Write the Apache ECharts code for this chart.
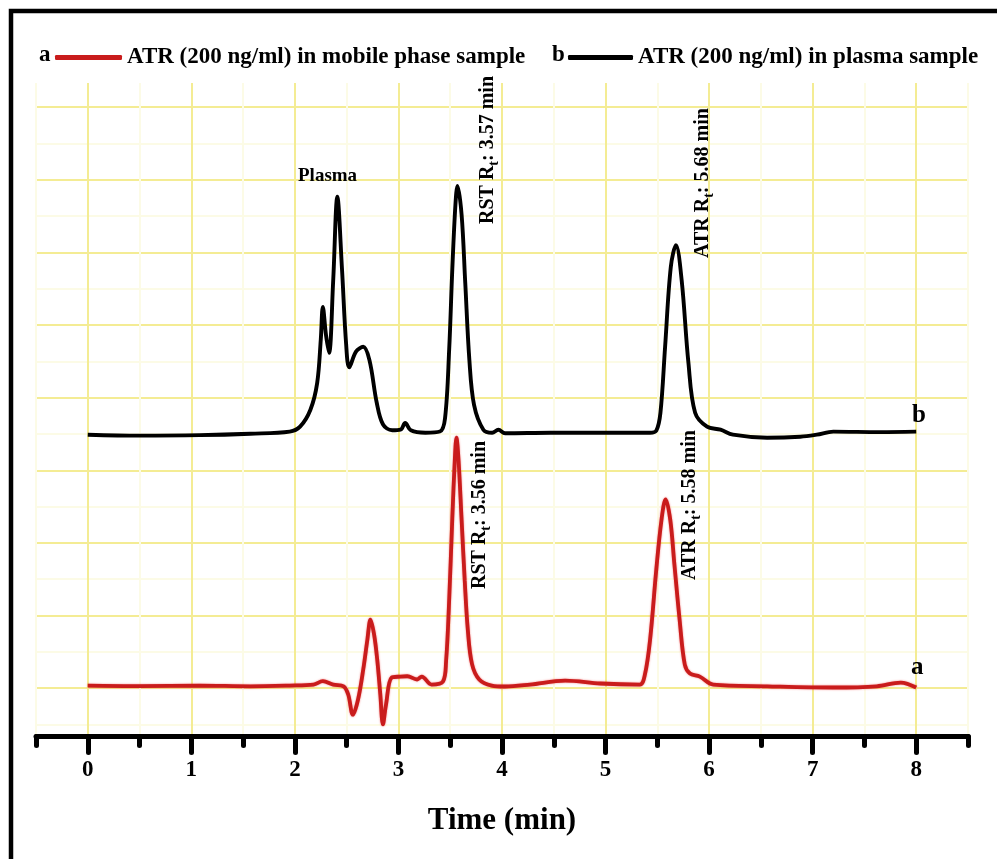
<!DOCTYPE html>
<html>
<head>
<meta charset="utf-8">
<script src="https://cdn.jsdelivr.net/npm/echarts@6/dist/echarts.min.js"></script>
<style>
  html, body { margin: 0; padding: 0; background: #fff; }
  #chart { width: 997px; height: 859px; }
</style>
</head>
<body>
<div id="chart"></div>
<script>
// Chromatogram traces: retention time (min) and detector response (arbitrary units)
const seriesNames = ['ATR (200 ng/ml) in mobile phase sample', 'ATR (200 ng/ml) in plasma sample'];

const timeA = [0, 0.5, 1.08, 1.57, 1.95, 2.18, 2.27, 2.37, 2.47, 2.515, 2.56, 2.61, 2.66, 2.70, 2.73, 2.765, 2.795, 2.825, 2.85, 2.88, 2.935, 3.02, 3.085, 3.18, 3.225, 3.32, 3.43, 3.46, 3.49, 3.52, 3.545, 3.56, 3.58, 3.61, 3.64, 3.67, 3.71, 3.78, 3.9, 4.03, 4.27, 4.61, 4.95, 5.33, 5.38, 5.43, 5.49, 5.54, 5.58, 5.625, 5.665, 5.715, 5.765, 5.815, 5.91, 6.04, 6.56, 7.2, 7.62, 7.85, 8.0];
const signalA = [0.21, 0.17, 0.21, 0.15, 0.21, 0.29, 0.57, 0.29, 0.15, -0.53, -2.2, -0.94, 1.53, 4.0, 5.66, 4.42, 2.36, -0.53, -3.0, -1.36, 0.87, 0.95, 0.98, 0.71, 0.95, 0.29, 0.54, 2.2, 7.3, 14.0, 19.0, 20.7, 18.9, 13.9, 8.9, 4.8, 2.0, 0.71, 0.21, 0.13, 0.29, 0.62, 0.38, 0.29, 1.12, 4.0, 9.8, 13.9, 15.6, 13.9, 10.2, 5.66, 1.95, 1.2, 0.95, 0.29, 0.15, 0.05, 0.15, 0.46, 0.05];

const timeB = [0, 0.5, 1.08, 1.57, 1.95, 2.05, 2.15, 2.215, 2.25, 2.27, 2.30, 2.33, 2.37, 2.41, 2.455, 2.495, 2.525, 2.59, 2.66, 2.72, 2.79, 2.85, 2.94, 3.02, 3.065, 3.12, 3.26, 3.40, 3.45, 3.49, 3.52, 3.55, 3.57, 3.61, 3.645, 3.685, 3.73, 3.82, 3.905, 3.965, 4.03, 4.47, 4.95, 5.43, 5.49, 5.53, 5.575, 5.63, 5.68, 5.735, 5.80, 5.865, 5.98, 6.11, 6.23, 6.56, 6.88, 7.04, 7.2, 7.65, 8.0];
const signalB = [20.94, 20.86, 20.90, 21.02, 21.19, 21.6, 23.0, 25.2, 28.8, 31.5, 29.2, 27.7, 33.7, 40.6, 34.6, 28.4, 26.5, 27.8, 28.2, 27.1, 23.6, 21.8, 21.3, 21.35, 21.9, 21.3, 21.1, 21.2, 22.3, 28.0, 34.6, 39.9, 41.5, 39.1, 33.5, 27.1, 23.4, 21.35, 21.1, 21.35, 21.06, 21.1, 21.1, 21.1, 21.27, 22.75, 28.2, 34.8, 36.6, 33.7, 26.9, 22.75, 21.6, 21.35, 20.94, 20.69, 20.77, 20.94, 21.19, 21.15, 21.19];

// Axis ticks
const majorTicks = [0, 1, 2, 3, 4, 5, 6, 7, 8];

const FONT = '"Liberation Serif", "Times New Roman", serif';
const zip = (xs, ys) => xs.map((x, i) => [x, ys[i]]);

// Grid line colours cycle with the tick index
const gridMajor = '#f4ec94';
const gridMinor = '#fcfbe6';
const none = 'rgba(0,0,0,0)';

const chart = echarts.init(document.getElementById('chart'), null, { renderer: 'canvas' });

const subLabel = (name, rt) => `{n|${name} R}{s|t}{n|: ${rt} min}`;
const richStyle = {
  n: { fontFamily: FONT, fontWeight: 'bold', fontSize: 20, lineHeight: 26, verticalAlign: 'middle', fill: '#000' },
  s: { fontFamily: FONT, fontWeight: 'bold', fontSize: 14, lineHeight: 26, verticalAlign: 'bottom', fill: '#000' }
};
function vText(x, y, name, rt) {
  return {
    type: 'text', x: x, y: y, rotation: Math.PI / 2, z: 10,
    style: {
      text: subLabel(name, rt), rich: richStyle,
      align: 'left', verticalAlign: 'middle', fill: '#000'
    }
  };
}
function plainText(x, y, text, size, align) {
  return {
    type: 'text', x: x, y: y, z: 10,
    style: {
      text: text, fill: '#000', align: align || 'left', verticalAlign: 'middle',
      font: `bold ${size}px ${FONT}`
    }
  };
}

const legendText = { fontFamily: FONT, fontWeight: 'bold', fontSize: 23, color: '#000' };

chart.setOption({
  animation: false,
  backgroundColor: '#fff',
  grid: { left: 36, right: 29, top: 83, bottom: 122.5, containLabel: false },
  legend: [
    {
      data: [seriesNames[0]], left: 50, top: 41, icon: 'roundRect',
      itemWidth: 67, itemHeight: 5, selectedMode: false, textStyle: legendText
    },
    {
      data: [seriesNames[1]], left: 563, top: 41, icon: 'roundRect',
      itemWidth: 65, itemHeight: 5, selectedMode: false, textStyle: legendText
    }
  ],
  xAxis: [
    {
      type: 'value', min: -0.5, max: 8.5, interval: 0.5, position: 'bottom',
      name: 'Time (min)', nameLocation: 'middle', nameGap: 69,
      nameTextStyle: { fontFamily: FONT, fontWeight: 'bold', fontSize: 31, color: '#000' },
      axisLine: { show: true, onZero: false, lineStyle: { color: '#000', width: 5, cap: 'round' } },
      axisTick: { show: true, inside: false, length: 9, lineStyle: { color: '#000', width: 5, cap: 'round' } },
      axisLabel: {
        customValues: majorTicks, margin: 22,
        fontFamily: FONT, fontWeight: 'bold', fontSize: 23, color: '#000',
        formatter: v => (Number.isInteger(v) ? String(v) : '')
      },
      splitLine: { show: true, lineStyle: { color: [gridMinor, gridMajor], width: 2 } }
    },
    {
      type: 'value', min: -0.5, max: 8.5, interval: 0.5, position: 'bottom',
      axisLine: { show: false, onZero: false },
      axisTick: { show: true, customValues: majorTicks, length: 16, lineStyle: { color: '#000', width: 5, cap: 'round' } },
      axisLabel: { show: false },
      splitLine: { show: false }
    }
  ],
  yAxis: {
    type: 'value', min: -4, max: 50, interval: 1,
    axisLine: { show: false }, axisTick: { show: false }, axisLabel: { show: false },
    splitLine: { show: true, lineStyle: { color: [none, gridMinor, none, none, gridMajor, none], width: 2 } }
  },
  series: [
    {
      name: seriesNames[0], type: 'line', xAxisIndex: 0, data: zip(timeA, signalA),
      showSymbol: false, smooth: 0.35, z: 3,
      lineStyle: { color: '#c91c1c', width: 3.8, shadowColor: 'rgba(235,20,20,0.55)', shadowBlur: 2 },
      itemStyle: { color: '#c91c1c' }
    },
    {
      name: seriesNames[1], type: 'line', xAxisIndex: 0, data: zip(timeB, signalB),
      showSymbol: false, smooth: 0.35, z: 4,
      lineStyle: { color: '#000', width: 3.9 },
      itemStyle: { color: '#000' }
    }
  ],
  graphic: [
    // outer frame
    { type: 'rect', shape: { x: 11, y: 11, width: 1000, height: 900 }, style: { fill: 'none', stroke: '#000', lineWidth: 4.5 }, z: 20 },
    plainText(39, 55, 'a', 23),
    plainText(552, 55, 'b', 23),
    plainText(298, 176, 'Plasma', 19),
    vText(488, 224, 'RST', '3.57'),
    vText(703, 258, 'ATR', '5.68'),
    vText(480, 589, 'RST', '3.56'),
    vText(690, 580, 'ATR', '5.58'),
    plainText(912, 416, 'b', 25),
    plainText(911, 668, 'a', 25)
  ]
});
</script>
</body>
</html>
